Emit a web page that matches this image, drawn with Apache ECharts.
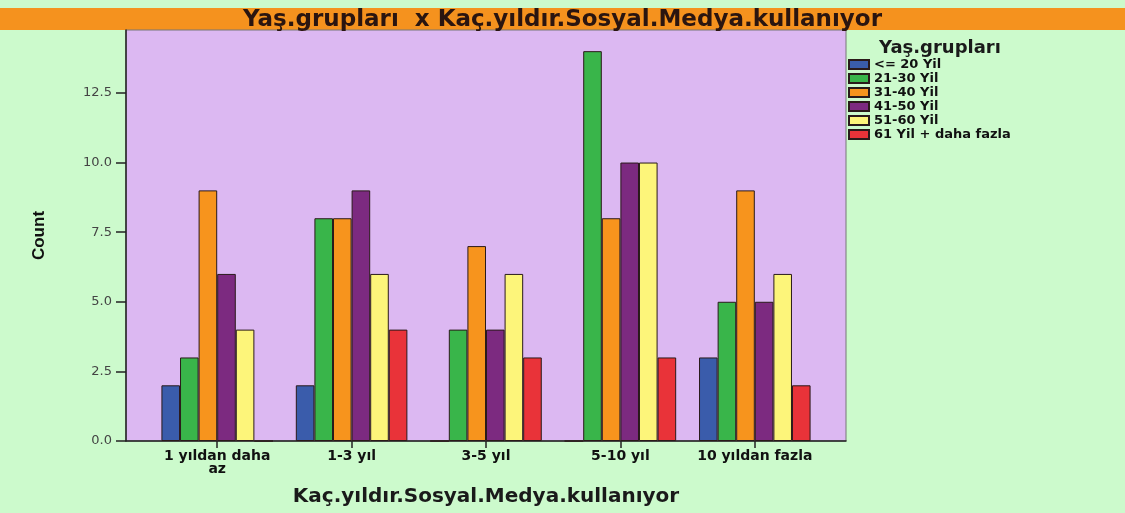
<!DOCTYPE html>
<html>
<head>
<meta charset="utf-8">
<script src="https://cdn.jsdelivr.net/npm/echarts@6/dist/echarts.min.js"></script>
<style>
html,body{margin:0;padding:0;background:#ccfacc;}
#chart_yas{width:1125px;height:513px;}
</style>
</head>
<body>
<div id="chart_yas"></div>
<script>
// kategoriler (x ekseni)
var kategoriler = ['1 yıldan daha\naz', '1-3 yıl', '3-5 yıl', '5-10 yıl', '10 yıldan fazla'];
// yas gruplari
var gruplar = ['<= 20 Yil', '21-30 Yil', '31-40 Yil', '41-50 Yil', '51-60 Yil', '61 Yil + daha fazla'];
var renkler = ['#3a5cab', '#39b54a', '#f7941d', '#7c2a80', '#fdf57a', '#e93339'];
// degerler (Count)
var g20 = [2, 2, 0, 0, 3];
var g2130 = [3, 8, 4, 14, 5];
var g3140 = [9, 8, 7, 8, 9];
var g4150 = [6, 9, 4, 10, 5];
var g5160 = [4, 6, 6, 10, 6];
var g61 = [0, 4, 3, 3, 2];
var degerler = [g20, g2130, g3140, g4150, g5160, g61];
// y ekseni etiketleri
var yTicks = [0, 2.5, 5, 7.5, 10, 12.5];
var yMax = 14.76;

var genis = 'DejaVu Sans, Verdana, sans-serif';	//genis yazi tipi

function echartYasGrup(){
	var dom = document.getElementById("chart_yas");
	var myChart = echarts.init(dom);

	var series = [];
	for(var i=0; i<gruplar.length; i++){
		series.push({
			name: gruplar[i],
			type: 'bar',
			xAxisIndex: 1,
			yAxisIndex: 1,
			barGap: '0%',
			barCategoryGap: '17%',
			itemStyle: {color: renkler[i], borderColor: '#2a1a1a', borderWidth: 1},
			data: degerler[i]
		});
	}

	var option = {
		backgroundColor: '#ccfacc',
		textStyle: {fontFamily: genis},
		graphic: [
			//baslik bandi
			{type: 'rect', left: 0, top: 8, shape: {width: 1125, height: 22}, style: {fill: '#f5921e'}, z: -1}
		],
		title: [
			{
				text: 'Yaş.grupları  x Kaç.yıldır.Sosyal.Medya.kullanıyor',
				left: 'center', top: 4,
				textStyle: {fontSize: 23, fontWeight: 'bold', color: '#2a1510', fontFamily: genis}
			},
			{
				text: 'Yaş.grupları',
				left: 874, top: 34,
				textStyle: {fontSize: 18, fontWeight: 'bold', color: '#1a1a1a', fontFamily: genis}
			}
		],
		legend: {
			orient: 'vertical',
			left: 848, top: 58, padding: 0,
			itemWidth: 20, itemHeight: 9, itemGap: 1,
			icon: 'rect',
			data: gruplar,
			textStyle: {fontSize: 13, lineHeight: 13, fontWeight: 'bold', color: '#111', fontFamily: genis}
		},
		grid: [
			{left: 126, right: 279, top: 30, bottom: 72, show: true, backgroundColor: '#dcb8f2', borderColor: '#777', borderWidth: 1},
			{left: 150, right: 303, top: 30, bottom: 72}
		],
		xAxis: [
			{
				gridIndex: 0, type: 'value', min: 0, max: 1,
				axisLine: {show: true, onZero: false, lineStyle: {color: '#222', width: 1.5}},
				axisTick: {show: false}, axisLabel: {show: false}, splitLine: {show: false}
			},
			{
				gridIndex: 1, type: 'category', data: kategoriler,
				name: 'Kaç.yıldır.Sosyal.Medya.kullanıyor',
				nameLocation: 'middle', nameGap: 46,
				nameTextStyle: {fontSize: 20, fontWeight: 'bold', color: '#1a1a1a', fontFamily: genis},
				axisLine: {show: false},
				axisTick: {show: true, alignWithLabel: true, length: 7, lineStyle: {color: '#222', width: 1.5}},
				axisLabel: {fontSize: 14, fontWeight: 'bold', color: '#111', margin: 9, lineHeight: 13, interval: 0, fontFamily: genis}
			}
		],
		yAxis: [
			{
				gridIndex: 0, type: 'value', min: 0, max: yMax,
				name: 'Count', nameLocation: 'middle', nameGap: 78, nameRotate: 90,
				nameTextStyle: {fontSize: 17, fontWeight: 'bold', color: '#111', fontFamily: 'Liberation Sans Narrow, Liberation Sans, Arial, sans-serif'},
				axisLine: {show: true, lineStyle: {color: '#222', width: 1.5}},
				axisTick: {show: true, length: 10, customValues: yTicks, lineStyle: {color: '#222', width: 1.5}},
				axisLabel: {fontSize: 13, color: '#444', margin: 14, customValues: yTicks, fontFamily: genis,
					formatter: function(v){ return v.toFixed(1); }},
				splitLine: {show: false}
			},
			{
				gridIndex: 1, type: 'value', min: 0, max: yMax,
				axisLine: {show: false}, axisTick: {show: false}, axisLabel: {show: false}, splitLine: {show: false}
			}
		],
		series: series
	};

	myChart.setOption(option, true);
}

echartYasGrup();
</script>
</body>
</html>
